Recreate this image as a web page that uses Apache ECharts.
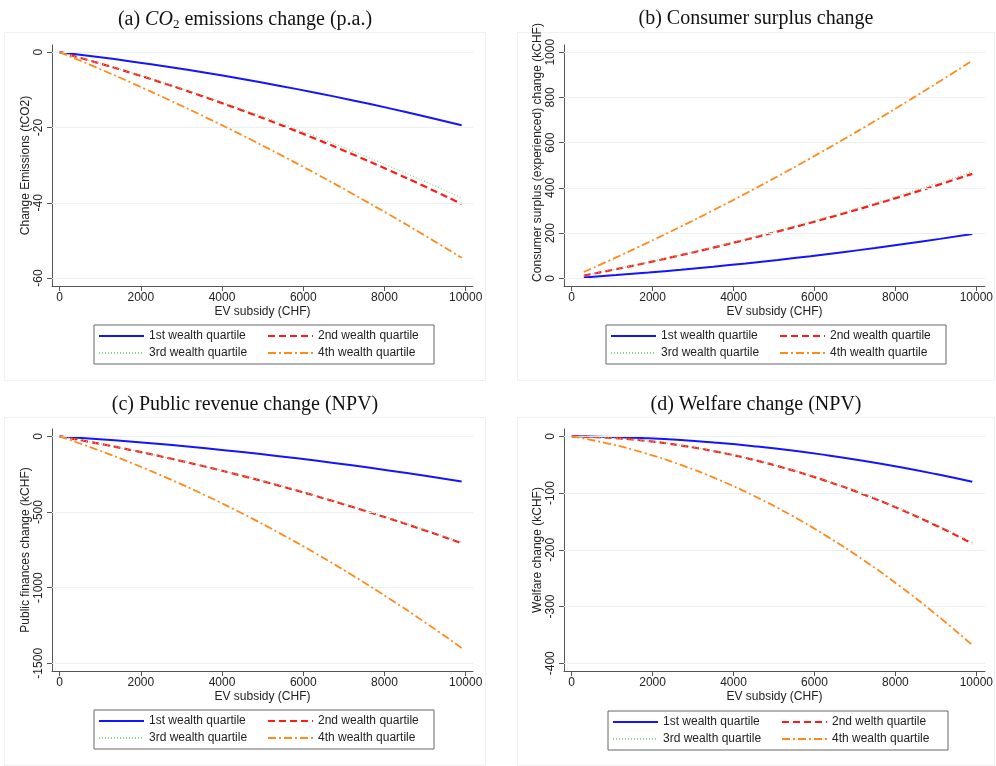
<!DOCTYPE html>
<html><head><meta charset="utf-8">
<script src="https://cdn.jsdelivr.net/npm/echarts@6/dist/echarts.min.js"></script>
<style>html,body{margin:0;padding:0;background:#fff}#c{width:996px;height:766px}</style>
</head><body><div id="c"></div>
<script>
// ---- data ----
const subsidyACD = [0, 900, 1800, 2700, 3600, 4500, 5400, 6300, 7200, 8100, 9000, 9900];
const subsidyB = [300, 1100, 1900, 2700, 3500, 4300, 5100, 5900, 6700, 7500, 8300, 9100, 9900];
const xTicks = [0, 2000, 4000, 6000, 8000, 10000];

const namesABC = ['1st wealth quartile', '2nd wealth quartile', '3rd wealth quartile', '4th wealth quartile'];
const namesD = ['1st wealth quartile', '2nd welth quartile', '3rd wealth quartile', '4th wealth quartile'];

// (a) CO2 emissions change
const co2Q1 = [0, -1.20, -2.52, -3.94, -5.48, -7.13, -8.90, -10.77, -12.76, -14.86, -17.07, -19.4];
const co2Q2 = [0, -2.72, -5.63, -8.73, -12.02, -15.49, -19.16, -23.01, -27.05, -31.28, -35.69, -40.3];
const co2Q3 = [0, -2.71, -5.58, -8.61, -11.80, -15.16, -18.68, -22.36, -26.20, -30.21, -34.37, -38.7];
const co2Q4 = [0, -4.05, -8.29, -12.71, -17.31, -22.09, -27.06, -32.20, -37.53, -43.04, -48.73, -54.6];
const co2Ticks = [0, -20, -40, -60];

// (b) Consumer surplus change
const csQ1 = [4, 14.3, 25.7, 38.1, 51.6, 66.0, 81.5, 98.0, 115.6, 134.1, 153.7, 174.4, 196];
const csQ2 = [12, 40.5, 70.6, 102.4, 135.8, 170.8, 207.5, 245.8, 285.8, 327.4, 370.6, 415.5, 462];
const csQ3 = [12, 41.0, 71.7, 104.1, 138.2, 174.0, 211.5, 250.6, 291.6, 334.1, 378.4, 424.4, 472];
const csQ4 = [28, 92.6, 159.7, 229.2, 301.0, 375.3, 452.0, 531.1, 612.7, 696.6, 783.0, 871.8, 963];
const csTicks = [0, 200, 400, 600, 800, 1000];

// (c) Public revenue change
const pubQ1 = [0, -16.5, -35.1, -55.9, -78.7, -103.7, -130.8, -160.0, -191.3, -224.8, -260.3, -298];
const pubQ2 = [0, -44.2, -92.4, -144.5, -200.7, -260.9, -325.1, -393.3, -465.5, -541.6, -621.8, -706];
const pubQ3 = [0, -44.0, -91.9, -143.7, -199.5, -259.2, -322.8, -390.4, -461.9, -537.3, -616.7, -700];
const pubQ4 = [0, -85.2, -178.8, -280.8, -391.2, -510.0, -637.1, -772.7, -916.7, -1069.1, -1229.8, -1399];
const pubTicks = [0, -500, -1000, -1500];

// (d) Welfare change
const welQ1 = [0, -0.9, -3.1, -6.5, -11.3, -17.3, -24.5, -33.1, -42.9, -54.0, -66.4, -80];
const welQ2 = [0, -2.4, -7.7, -16.1, -27.3, -41.5, -58.7, -78.9, -101.9, -128.0, -157.0, -189];
const welQ3 = [0, -2.4, -7.7, -15.9, -27.0, -41.1, -58.1, -78.0, -100.9, -126.7, -155.4, -187];
const welQ4 = [0, -12.6, -29.4, -50.4, -75.5, -104.8, -138.2, -175.9, -217.6, -263.6, -313.7, -368];
const welTicks = [0, -100, -200, -300, -400];

// ---- chart ----
const SANS = '"Liberation Sans", Arial, sans-serif';
const SERIF = '"Liberation Serif", "DejaVu Serif", serif';
const AXC = '#555';
const GRIDC = '#e9f0f2';

const styles = [
  { color: '#1414ff', width: 2, type: 'solid' },
  { color: '#ff1a1a', width: 2.2, type: [7, 4] },
  { color: '#8fcf8f', width: 1.2, type: [1, 2] },
  { color: '#ff8a1a', width: 1.8, type: [8, 3, 2, 3] }
];

const panels = [
  { xs: subsidyACD, ys: [co2Q1, co2Q2, co2Q3, co2Q4], names: namesABC, ticks: co2Ticks,
    grid: { left: 52, top: 45, width: 421, height: 241 }, xMin: -187, xMax: 10180, yMin: -62.1, yMax: 1.9,
    yName: 'Change Emissions (tCO2)', namePad: [0, 0, 0, 0], legend: { left: 94, top: 325 } },
  { xs: subsidyB, ys: [csQ1, csQ2, csQ3, csQ4], names: namesABC, ticks: csTicks,
    grid: { left: 564, top: 45, width: 423, height: 241 }, xMin: -190, xMax: 10214, yMin: -34, yMax: 1032,
    yName: 'Consumer surplus (experienced) change (kCHF)', namePad: [0, 0, 0, 26], legend: { left: 606, top: 325 } },
  { xs: subsidyACD, ys: [pubQ1, pubQ2, pubQ3, pubQ4], names: namesABC, ticks: pubTicks,
    grid: { left: 52, top: 429, width: 421, height: 242 }, xMin: -187, xMax: 10180, yMin: -1551, yMax: 49,
    yName: 'Public finances change (kCHF)', namePad: [0, 0, 0, 0], legend: { left: 94, top: 710 } },
  { xs: subsidyACD, ys: [welQ1, welQ2, welQ3, welQ4], names: namesD, ticks: welTicks,
    grid: { left: 564, top: 429, width: 423, height: 242 }, xMin: -190, xMax: 10214, yMin: -413.7, yMax: 13,
    yName: 'Welfare change (kCHF)', namePad: [0, 0, 0, 0], legend: { left: 608, top: 711 } }
];

const titleStyle = { fontFamily: SERIF, fontSize: 20, fontWeight: 'normal', color: '#111',
  rich: { i: { fontFamily: SERIF, fontSize: 20, fontStyle: 'italic', color: '#111' },
          s: { fontFamily: SERIF, fontSize: 13, color: '#111', padding: [9, 0, 0, 0] } } };

const plain = v => String(v);

const option = {
  animation: false,
  backgroundColor: '#fff',
  graphic: [
    { type: 'rect', shape: { x: 4.5, y: 32.5, width: 481, height: 348 }, style: { fill: '#fff', stroke: '#edf1f3', lineWidth: 1 }, z: -10 },
    { type: 'rect', shape: { x: 517.5, y: 32.5, width: 477, height: 348 }, style: { fill: '#fff', stroke: '#edf1f3', lineWidth: 1 }, z: -10 },
    { type: 'rect', shape: { x: 4.5, y: 417.5, width: 481, height: 348 }, style: { fill: '#fff', stroke: '#edf1f3', lineWidth: 1 }, z: -10 },
    { type: 'rect', shape: { x: 517.5, y: 417.5, width: 477, height: 348 }, style: { fill: '#fff', stroke: '#edf1f3', lineWidth: 1 }, z: -10 }
  ],
  title: [
    { text: '(a) {i|CO}{s|2} emissions change (p.a.)', left: 240, top: 4, textAlign: 'center', textStyle: titleStyle },
    { text: '(b) Consumer surplus change', left: 751, top: 4, textAlign: 'center', textStyle: titleStyle },
    { text: '(c) Public revenue change (NPV)', left: 240, top: 390, textAlign: 'center', textStyle: titleStyle },
    { text: '(d) Welfare change (NPV)', left: 751, top: 390, textAlign: 'center', textStyle: titleStyle }
  ],
  grid: panels.map(p => Object.assign({ containLabel: false }, p.grid)),
  xAxis: panels.map((p, i) => ({
    type: 'value', gridIndex: i, min: p.xMin, max: p.xMax,
    name: 'EV subsidy (CHF)', nameLocation: 'middle', nameGap: 20,
    nameTextStyle: { fontFamily: SANS, fontSize: 12, color: '#222' },
    axisLine: { show: true, onZero: false, lineStyle: { color: AXC, width: 1 } },
    axisTick: { show: true, length: 5, customValues: xTicks, lineStyle: { color: AXC } },
    axisLabel: { customValues: xTicks, formatter: plain, fontFamily: SANS, fontSize: 12, color: '#222', margin: 6 },
    splitLine: { show: false }
  })),
  yAxis: panels.map((p, i) => ({
    type: 'value', gridIndex: i, min: p.yMin, max: p.yMax,
    name: p.yName, nameLocation: 'middle', nameGap: 20,
    nameTextStyle: { fontFamily: SANS, fontSize: 12, color: '#222', padding: p.namePad },
    axisLine: { show: true, onZero: false, lineStyle: { color: AXC, width: 1 } },
    axisTick: { show: true, length: 5, customValues: p.ticks, lineStyle: { color: AXC } },
    axisLabel: { customValues: p.ticks, formatter: plain, rotate: 90, fontFamily: SANS, fontSize: 12, color: '#222', margin: 7 },
    splitLine: { show: false }
  })),
  legend: panels.map(p => ({
    left: p.legend.left, top: p.legend.top, width: 340, orient: 'horizontal',
    data: p.names, itemWidth: 45, itemHeight: 14, itemGap: 3,
    padding: [4, 1, 4, 4], borderColor: '#666', borderWidth: 1, borderRadius: 0,
    selectedMode: false,
    itemStyle: { opacity: 0, borderWidth: 0 },
    textStyle: { fontFamily: SANS, fontSize: 12, color: '#222', width: 115, lineHeight: 14 }
  })),
  series: []
};

panels.forEach((p, gi) => {
  // light horizontal gridlines at the tick values
  option.series.push({
    type: 'line', name: 'grid' + gi, xAxisIndex: gi, yAxisIndex: gi, data: [], silent: true, z: 1,
    markLine: { silent: true, symbol: 'none', label: { show: false }, animation: false,
      lineStyle: { color: GRIDC, type: 'solid', width: 1 },
      emphasis: { disabled: true },
      data: p.ticks.map(v => ({ yAxis: v })) }
  });
  p.ys.forEach((ys, si) => {
    option.series.push({
      type: 'line', name: p.names[si], xAxisIndex: gi, yAxisIndex: gi,
      data: p.xs.map((x, k) => [x, ys[k]]),
      smooth: true, symbol: 'none', z: 3 + si,
      color: styles[si].color,
      lineStyle: { color: styles[si].color, width: styles[si].width, type: styles[si].type },
      emphasis: { disabled: true }
    });
  });
});

const chart = echarts.init(document.getElementById('c'), null, { renderer: 'canvas' });
chart.setOption(option);
</script>
</body></html>
